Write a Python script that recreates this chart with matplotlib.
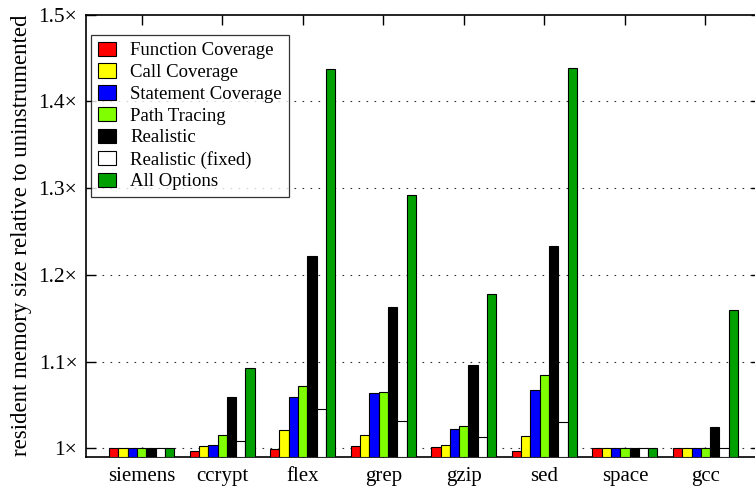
import matplotlib
matplotlib.use("Agg")
import matplotlib.pyplot as plt
import numpy as np
from matplotlib.patches import Patch

plt.rcParams['font.family'] = ['Liberation Serif', 'DejaVu Serif']

programs = ["siemens", "ccrypt", "flex", "grep", "gzip", "sed", "space", "gcc"]

function_cov  = [1.000, 0.9972, 0.9988, 1.0023, 1.0012, 0.9972, 1.000, 1.000]
call_cov      = [1.000, 1.0023, 1.0211, 1.0150, 1.0038, 1.0142, 1.000, 1.000]
statement_cov = [1.000, 1.0041, 1.0595, 1.0634, 1.0222, 1.0672, 1.000, 1.000]
path_tracing  = [1.000, 1.0153, 1.0722, 1.0649, 1.0260, 1.0845, 1.000, 1.000]
realistic     = [1.000, 1.0595, 1.2216, 1.1632, 1.0960, 1.2332, 1.000, 1.0245]
realistic_fix = [1.000, 1.0084, 1.0450, 1.0311, 1.0134, 1.0300, 1.000, 1.000]
all_options   = [1.000, 1.0929, 1.4368, 1.2920, 1.1778, 1.4387, 1.000, 1.1590]

series_names = ["Function Coverage", "Call Coverage", "Statement Coverage",
                "Path Tracing", "Realistic", "Realistic (fixed)", "All Options"]
series_values = [function_cov, call_cov, statement_cov, path_tracing,
                 realistic, realistic_fix, all_options]
series_colors = ["#ff0000", "#ffff00", "#0000ff", "#7fff00",
                 "#000000", "#ffffff", "#00a000"]

yticks = [1.0, 1.1, 1.2, 1.3, 1.4, 1.5]
ytick_labels = ["1\u00d7", "1.1\u00d7", "1.2\u00d7", "1.3\u00d7", "1.4\u00d7", "1.5\u00d7"]

W, H = 755, 487
fig = plt.figure(figsize=(W / 100, H / 100), dpi=100)
left, right, top, bottom = 85.7, 761.4, 14.5, 457.0
ax = fig.add_axes([left / W, 1 - bottom / H, (right - left) / W, (bottom - top) / H])

x = np.arange(len(programs))
bw = 0.1154
base = 0.99
for j, (vals, col, name) in enumerate(zip(series_values, series_colors, series_names)):
    heights = np.array(vals) - base
    ax.bar(x + (j - 3) * bw, heights, bw, bottom=base, color=col,
           edgecolor="black", linewidth=0.8, zorder=3, label=name)

ax.set_xlim(-0.694, 7.694)
ax.set_ylim(0.99, 1.5)
ax.set_xticks(x)
ax.set_xticklabels(programs, fontsize=15)
ax.set_yticks(yticks)
ax.set_yticklabels(ytick_labels, fontsize=15.5)
ax.tick_params(axis="both", direction="in", length=7, width=1,
               top=True, right=True)
ax.tick_params(axis="y", pad=6)
ax.tick_params(axis="x", pad=7.5)

for yv in yticks[:-1]:
    ax.axhline(yv, color="#333333", linewidth=0.8,
               linestyle=(0, (1.5, 5.7)), zorder=1)

for s in ax.spines.values():
    s.set_linewidth(1.2)
    s.set_color("black")

ax.set_ylabel("resident memory size relative to uninstrumented", fontsize=16.5,
              labelpad=5)

handles = [Patch(facecolor=c, edgecolor="black", linewidth=0.8) for c in series_colors]
leg = ax.legend(handles, series_names, loc="upper left",
                bbox_to_anchor=(0.0078, 0.9537), borderaxespad=0,
                fontsize=13.5, frameon=True, fancybox=False, shadow=False,
                handlelength=1.0, handleheight=0.8, handletextpad=0.75,
                labelspacing=0.22, borderpad=0.35)
leg.get_frame().set_edgecolor("black")
leg.get_frame().set_linewidth(0.9)
leg.set_zorder(5)

fig.savefig("out.png", dpi=100)
